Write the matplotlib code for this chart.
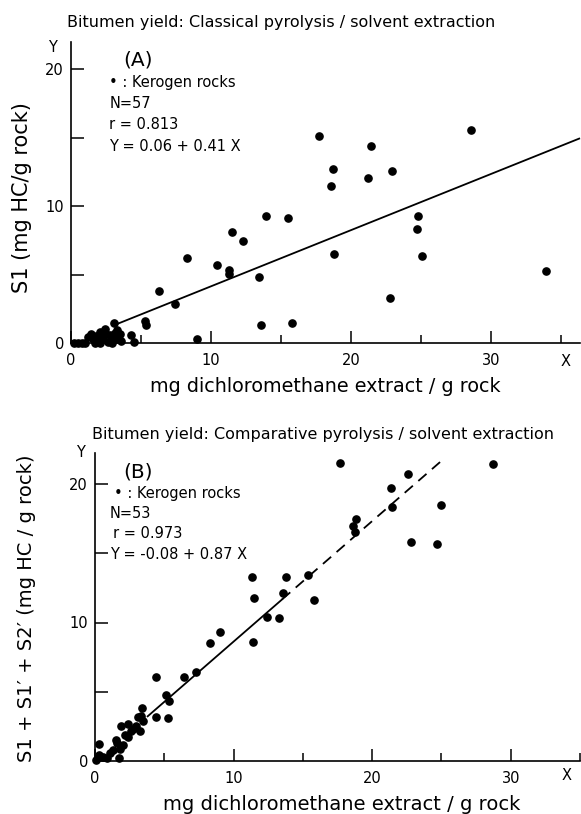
import numpy as np
import matplotlib
matplotlib.use("Agg")
from matplotlib import pyplot as plt

# panel A: classical pyrolysis S1 vs extract
a_x = [17.7, 28.6, 21.4, 18.7, 18.6, 21.2, 22.9, 13.9, 15.5, 11.5, 12.3, 24.8, 24.7,
       25.1, 18.8, 8.3, 10.4, 11.3, 11.3, 13.4, 33.9, 6.3, 7.4, 22.8, 13.6, 15.8,
       9.0, 5.3, 5.35, 3.1, 4.3, 4.5,
       0.2, 0.5, 0.75, 1.0, 1.4, 1.6, 1.7, 1.95, 2.05, 2.3, 2.45, 2.5, 2.65, 2.8,
       3.0, 3.15, 3.35, 3.5, 3.6, 2.2, 1.8, 2.9, 1.2, 3.3, 2.1]
a_y = [15.1, 15.6, 14.4, 12.7, 11.5, 12.1, 12.6, 9.3, 9.15, 8.1, 7.5, 9.3, 8.35,
       6.4, 6.55, 6.2, 5.7, 5.35, 5.05, 4.85, 5.25, 3.85, 2.9, 3.3, 1.3, 1.5,
       0.3, 1.65, 1.3, 1.45, 0.6, 0.1,
       0.0, 0.0, 0.0, 0.0, 0.7, 0.35, 0.0, 0.25, 0.0, 0.35, 1.05, 0.7, 0.1, 0.6,
       0.25, 0.75, 0.35, 0.7, 0.2, 0.55, 0.5, 0.0, 0.45, 1.0, 0.85]
a_fit = (0.06, 0.41)
a_range = (3.0, 36.3)

# panel B: comparative pyrolysis S1+S1'+S2' vs extract
b_x = [17.7, 28.7, 22.6, 21.35, 21.4, 24.95, 18.85, 18.6, 18.75, 22.8, 24.7, 11.3,
       13.8, 15.35, 11.5, 13.55, 15.8, 12.4, 13.3, 11.4, 8.3, 9.0, 4.4, 6.4, 7.3,
       5.15, 5.35, 4.4, 5.25, 3.4,
       3.35, 3.45, 3.1, 3.25, 2.95, 2.6, 2.4, 2.4, 1.85, 2.0, 1.8, 1.5, 1.3, 1.75,
       0.3, 0.3, 0.6, 0.85, 1.6, 2.15, 2.75, 1.1, 0.1]
b_y = [21.5, 21.45, 20.7, 19.7, 18.35, 18.45, 17.45, 16.95, 16.55, 15.8, 15.7, 13.25,
       13.25, 13.4, 11.75, 12.15, 11.65, 10.4, 10.3, 8.6, 8.55, 9.3, 6.05, 6.05, 6.4,
       4.8, 4.35, 3.15, 3.1, 3.8,
       3.25, 2.9, 3.15, 2.15, 2.55, 2.15, 2.65, 1.75, 2.55, 1.15, 0.9, 1.5, 0.8, 0.2,
       1.2, 0.45, 0.3, 0.25, 1.3, 1.9, 2.3, 0.55, 0.1]
b_fit = (-0.08, 0.87)
b_solid = (3.8, 13.5)
b_dash = (13.5, 24.9)

W, H = 581, 814


def px(x, y):
    return x / W, 1 - y / H


def style_axes(ax, xmax, ymax):
    ax.set_xlim(0, xmax)
    ax.set_ylim(0, ymax)
    for s in ("top", "right"):
        ax.spines[s].set_visible(False)
    for s in ("left", "bottom"):
        ax.spines[s].set_linewidth(1.2)
    ax.set_xticks([0, 10, 20, 30])
    ax.set_xticks([5, 15, 25, 35], minor=True)
    ax.set_yticks([0, 10, 20])
    ax.set_yticks([5, 15], minor=True)
    ax.tick_params(which="major", direction="in", length=9, width=1.1, labelsize=10.5)
    ax.tick_params(which="minor", direction="in", length=6, width=1.1)
    ax.tick_params(axis="y", which="minor", length=9)
    ax.tick_params(axis="x", pad=7)
    ax.tick_params(axis="y", pad=5)


fig = plt.figure(figsize=(W / 100, H / 100), dpi=100)
plt.rcParams['font.family'] = ['DejaVu Sans']

# --- (A)
axA = fig.add_axes([71 / W, 1 - 343.3 / H, 509 / W, 301.6 / H])
style_axes(axA, 509 / 14.0, 301.6 / 13.7)
axA.plot(a_x, a_y, 'o', color='black', markersize=5.2, clip_on=False)
xs = np.array(a_range)
axA.plot(xs, a_fit[0] + a_fit[1] * xs, color='black', lw=1.3, clip_on=False)
axA.text(0.102, 0.94, "(A)", transform=axA.transAxes, fontsize=14.5, va='center')
axA.text(0.075, 0.865, "\u2022 : Kerogen rocks", transform=axA.transAxes, fontsize=10.5, va='center')
axA.text(0.075, 0.795, "N=57", transform=axA.transAxes, fontsize=10.5, va='center')
axA.text(0.075, 0.725, "r = 0.813", transform=axA.transAxes, fontsize=10.5, va='center')
axA.text(0.075, 0.652, "Y = 0.06 + 0.41 X", transform=axA.transAxes, fontsize=10.5, va='center')

fig.text(*px(67, 23), "Bitumen yield: Classical pyrolysis / solvent extraction",
         fontsize=11.5, va='center', ha='left')
fig.text(*px(52, 47), "Y", fontsize=10.5, ha='center', va='center')
fig.text(*px(566, 361), "X", fontsize=10.5, ha='center', va='center')
fig.text(*px(325, 387), "mg dichloromethane extract / g rock", fontsize=13.8,
         ha='center', va='center')
fig.text(*px(22, 198), "S1 (mg HC/g rock)", fontsize=15, rotation=90,
         ha='center', va='center')

# --- (B)
axB = fig.add_axes([95 / W, 1 - 761 / H, 485 / W, 307.7 / H])
style_axes(axB, 485 / 13.95, 307.7 / 13.85)
axB.plot(b_x, b_y, 'o', color='black', markersize=5.2, clip_on=False)
xs = np.array(b_solid)
axB.plot(xs, b_fit[0] + b_fit[1] * xs, color='black', lw=1.3)
xs = np.array(b_dash)
axB.plot(xs, b_fit[0] + b_fit[1] * xs, color='black', lw=1.3, dashes=(6, 4), clip_on=False)
axB.text(0.058, 0.94, "(B)", transform=axB.transAxes, fontsize=14.5, va='center')
axB.text(0.04, 0.87, "\u2022 : Kerogen rocks", transform=axB.transAxes, fontsize=10.5, va='center')
axB.text(0.03, 0.805, "N=53", transform=axB.transAxes, fontsize=10.5, va='center')
axB.text(0.038, 0.74, "r = 0.973", transform=axB.transAxes, fontsize=10.5, va='center')
axB.text(0.03, 0.67, "Y = -0.08 + 0.87 X", transform=axB.transAxes, fontsize=10.5, va='center')

fig.text(*px(92, 434), "Bitumen yield: Comparative pyrolysis / solvent extraction",
         fontsize=11.5, va='center', ha='left')
fig.text(*px(80, 452), "Y", fontsize=10.5, ha='center', va='center')
fig.text(*px(567, 776), "X", fontsize=10.5, ha='center', va='center')
fig.text(*px(342, 805), "mg dichloromethane extract / g rock", fontsize=14,
         ha='center', va='center')
fig.text(*px(27, 608), "S1 + S1\u2032 + S2\u2032 (mg HC / g rock)", fontsize=14, rotation=90,
         ha='center', va='center')

fig.savefig("out.png", dpi=100)
